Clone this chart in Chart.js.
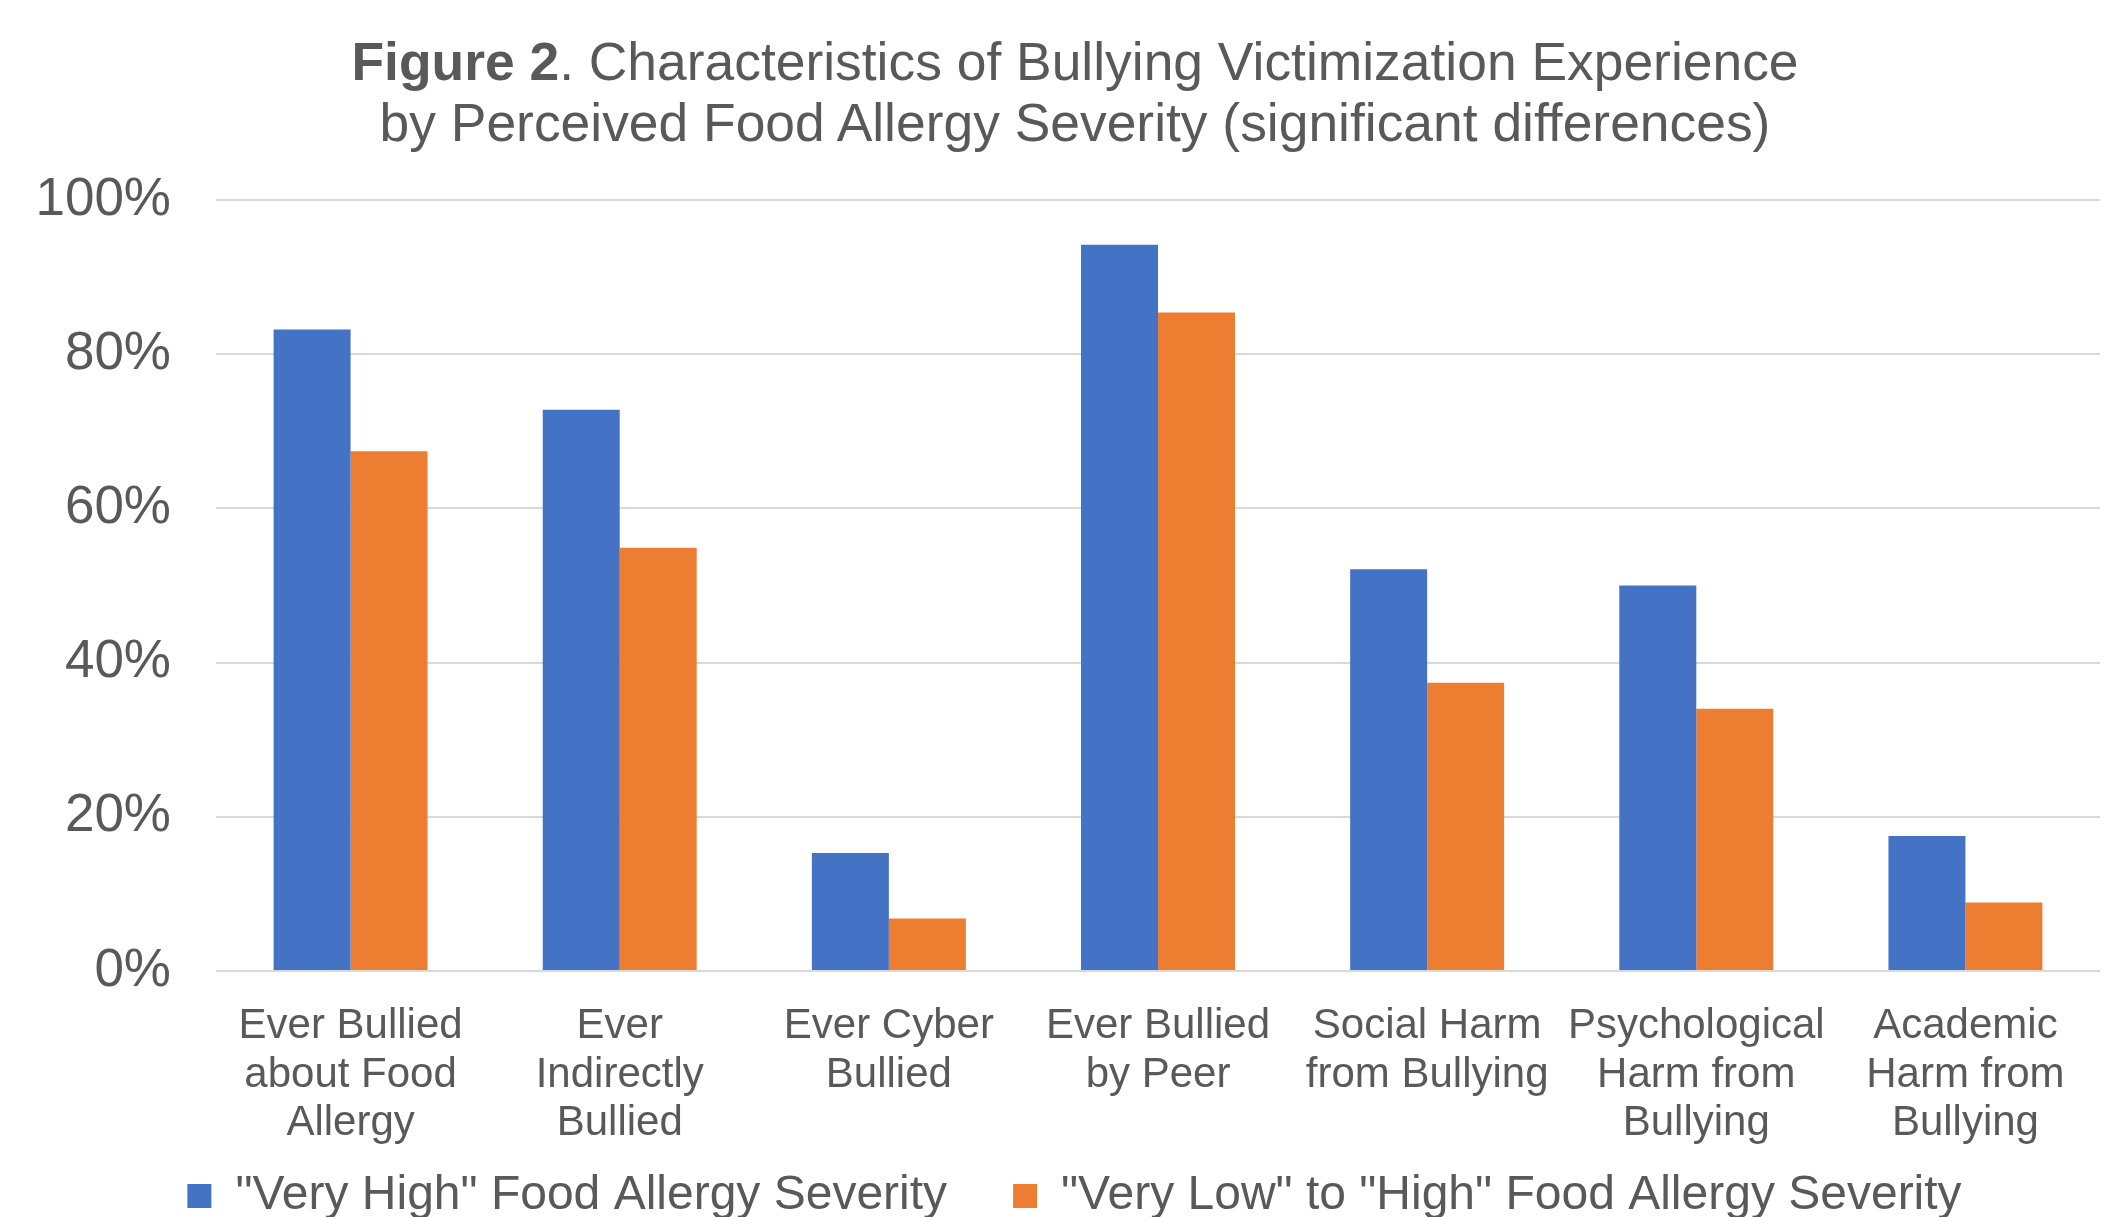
<!DOCTYPE html>
<html>
<head>
<meta charset="utf-8">
<script src="https://cdn.jsdelivr.net/npm/chart.js@4.4.1/dist/chart.umd.min.js"></script>
<style>
  html, body { margin: 0; padding: 0; background: #ffffff; overflow: hidden; }
  #wrap { position: relative; width: 2118px; height: 1217px; overflow: hidden; }
  #title {
    position: absolute; left: 16px; top: 31px; width: 2118px;
    text-align: center; font-family: "Liberation Sans", Arial, sans-serif;
    font-size: 53.4px; line-height: 61px; color: #595959;
  }
  #title b { font-weight: bold; }
  canvas { position: absolute; left: 0; top: 0; }
</style>
</head>
<body>
<div id="wrap">
  <canvas id="chart" width="2118" height="1230"></canvas>
  <div id="title"><b>Figure 2</b>. Characteristics of Bullying Victimization Experience<br>by Perceived Food Allergy Severity (significant differences)</div>
</div>
<script>
const categories = [
  ["Ever Bullied", "about Food", "Allergy"],
  ["Ever", "Indirectly", "Bullied"],
  ["Ever Cyber", "Bullied"],
  ["Ever Bullied", "by Peer"],
  ["Social Harm", "from Bullying"],
  ["Psychological", "Harm from", "Bullying"],
  ["Academic", "Harm from", "Bullying"]
];
const seriesNames = ['"Very High" Food Allergy Severity', '"Very Low" to "High" Food Allergy Severity'];
const veryHigh = [83.2, 72.8, 15.3, 94.2, 52.1, 50.0, 17.5];
const lowToHigh = [67.4, 54.9, 6.8, 85.4, 37.4, 34.0, 8.9];
const yTicks = [0, 20, 40, 60, 80, 100];

const FONT = '"Liberation Sans", Arial, sans-serif';
const TEXT = '#595959';

new Chart(document.getElementById('chart'), {
  type: 'bar',
  data: {
    labels: categories,
    datasets: [
      { label: seriesNames[0], data: veryHigh, backgroundColor: '#4472C4', borderWidth: 0 },
      { label: seriesNames[1], data: lowToHigh, backgroundColor: '#ED7D31', borderWidth: 0 }
    ]
  },
  options: {
    responsive: false,
    devicePixelRatio: 1,
    animation: false,
    layout: { padding: { top: 200, left: 49, right: 18, bottom: 0 } },
    datasets: { bar: { categoryPercentage: 0.572, barPercentage: 1.0 } },
    plugins: {
      title: { display: false },
      tooltip: { enabled: false },
      legend: {
        display: true,
        position: 'bottom',
        labels: {
          boxWidth: 24, boxHeight: 24, padding: 66,
          color: TEXT, font: { family: FONT, size: 48 }
        }
      }
    },
    scales: {
      x: {
        grid: { display: false, drawTicks: false },
        border: { display: false },
        ticks: {
          color: TEXT, padding: 31, maxRotation: 0, autoSkip: false,
          font: { family: FONT, size: 42, lineHeight: 1.16 }
        },
        afterFit: (s) => { s.height = 135; s._computeLabelArea = () => undefined; }
      },
      y: {
        min: 0, max: 100,
        afterBuildTicks: (s) => { s.ticks = yTicks.map(v => ({ value: v })); },
        grid: { color: '#d9d9d9', lineWidth: 2, drawTicks: false },
        border: { display: false },
        ticks: {
          color: TEXT, padding: 45,
          font: { family: FONT, size: 53 },
          callback: (v) => v + '%'
        },
        afterFit: (s) => { s.width = 167; s._computeLabelArea = () => undefined; }
      }
    }
  }
});
</script>
</body>
</html>
